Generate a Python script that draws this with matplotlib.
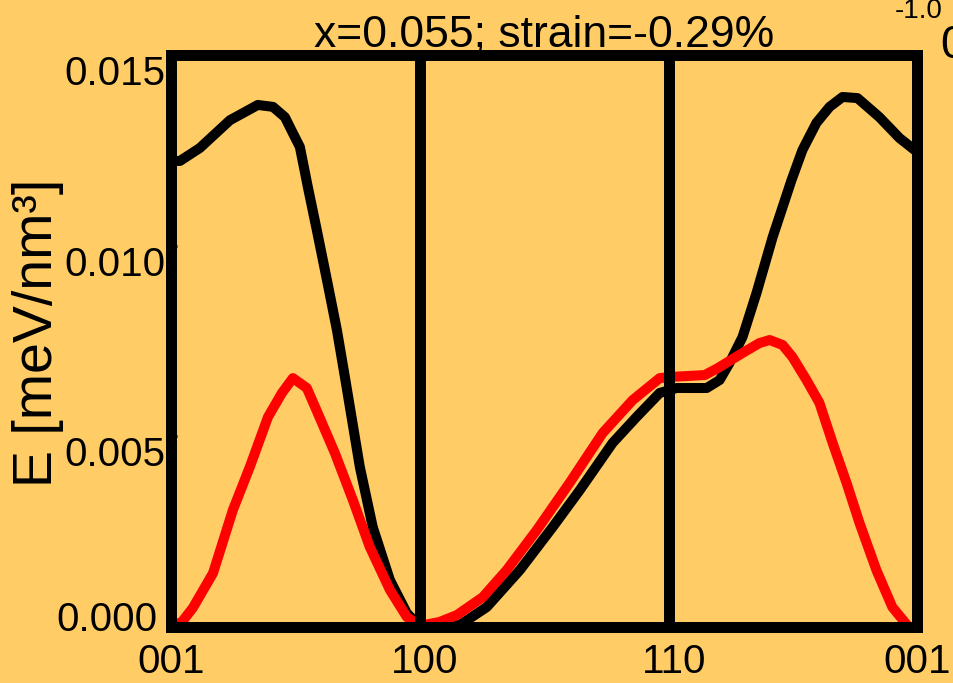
import matplotlib.pyplot as plt
from matplotlib.transforms import ScaledTranslation

# path through the Brillouin zone: 001 -> 100 -> 110 -> 001
path_ticks = [0, 1, 2, 3]
path_labels = ['001', '100', '110', '001']

# black curve
k_black = [0.000, 0.036, 0.116, 0.237, 0.349, 0.410, 0.458, 0.490, 0.518, 0.550,
           0.586, 0.627, 0.667, 0.699, 0.759, 0.811, 0.880, 0.948, 1.000, 1.080,
           1.161, 1.269, 1.402, 1.534, 1.643, 1.775, 1.871, 1.964, 2.032, 2.153,
           2.205, 2.245, 2.297, 2.353, 2.418, 2.494, 2.538, 2.594, 2.647, 2.699,
           2.759, 2.847, 2.928, 3.000]
e_black = [0.01222, 0.01222, 0.01256, 0.01329, 0.01369, 0.01364, 0.01337, 0.01295, 0.01259, 0.01154,
           0.01041, 0.00909, 0.00778, 0.00655, 0.00419, 0.00261, 0.00122, 0.00035, 0.00000, 0.00000,
           0.00004, 0.00051, 0.00148, 0.00261, 0.00358, 0.00482, 0.00550, 0.00613, 0.00626, 0.00626,
           0.00647, 0.00692, 0.00760, 0.00875, 0.01022, 0.01172, 0.01251, 0.01322, 0.01364, 0.01390,
           0.01387, 0.01337, 0.01282, 0.01245]

# red curve
k_red = [0.000, 0.044, 0.088, 0.169, 0.249, 0.317, 0.390, 0.446, 0.490, 0.546,
         0.590, 0.659, 0.731, 0.799, 0.880, 0.948, 1.000, 1.080, 1.149, 1.253,
         1.349, 1.470, 1.602, 1.735, 1.855, 1.964, 2.004, 2.145, 2.197, 2.297,
         2.365, 2.406, 2.458, 2.498, 2.554, 2.606, 2.659, 2.715, 2.767, 2.835,
         2.899, 2.948]
e_red = [0.00000, 0.00012, 0.00049, 0.00140, 0.00306, 0.00419, 0.00550, 0.00613, 0.00652, 0.00626,
         0.00560, 0.00455, 0.00332, 0.00209, 0.00096, 0.00025, 0.00002, 0.00012, 0.00030, 0.00077,
         0.00148, 0.00253, 0.00377, 0.00508, 0.00594, 0.00652, 0.00655, 0.00660, 0.00678, 0.00718,
         0.00744, 0.00752, 0.00739, 0.00707, 0.00647, 0.00587, 0.00482, 0.00377, 0.00272, 0.00148,
         0.00051, 0.00012]

y_ticks = [0.0, 0.005, 0.010, 0.015]
y_labels = ['0.000', '0.005', '0.010', '0.015']

bg = '#ffcc66'
plt.rcParams['font.family'] = ['Liberation Sans', 'DejaVu Sans']

fig = plt.figure(figsize=(9.54, 6.83), dpi=100, facecolor=bg)
ax = fig.add_axes([0.1792, 0.0827, 0.7825, 0.8367], facecolor=bg)

ax.plot(k_black, e_black, color='black', lw=7.2, zorder=2)
ax.plot(k_red, e_red, color='red', lw=7.2, zorder=3)
for k in path_ticks[1:-1]:
    ax.axvline(k, color='black', lw=7.9, zorder=4)

ax.set_xlim(0, 3)
ax.set_ylim(0, 0.015)

for s in ax.spines.values():
    s.set_linewidth(7.9)
    s.set_zorder(5)

ax.set_xticks(path_ticks)
ax.set_xticklabels(path_labels, fontsize=29)
ax.tick_params(axis='x', length=0, pad=12)

ax.set_yticks(y_ticks)
ax.set_yticklabels(y_labels, fontsize=29)
ax.tick_params(axis='y', direction='in', length=4, width=2, pad=4)
ylabs = ax.get_yticklabels()
for lab in ylabs[1:]:
    lab.set_verticalalignment('top')
ylabs[0].set_verticalalignment('baseline')
ylabs[0].set_transform(ylabs[0].get_transform()
                       + ScaledTranslation(-8 / 100, -4 / 100, fig.dpi_scale_trans))

# shift the inner x labels a bit right like the original
xlabs = ax.get_xticklabels()
for lab in xlabs[1:3]:
    lab.set_transform(lab.get_transform()
                      + ScaledTranslation(5 / 100, 0, fig.dpi_scale_trans))

ax.set_title('x=0.055; strain=-0.29%', fontsize=32, pad=5)
ax.set_ylabel('E [meV/nm³]', fontsize=40)
ax.yaxis.set_label_coords(-0.143, 0.514)

# leftovers of a neighbouring panel at the top right
fig.text(895 / 954, 1 - 18 / 683, '-1.0', fontsize=20, ha='left', va='baseline')
fig.text(940 / 954, 1 - 58 / 683, '0', fontsize=33, ha='left', va='baseline')

fig.savefig('out.png', dpi=100, facecolor=bg)
